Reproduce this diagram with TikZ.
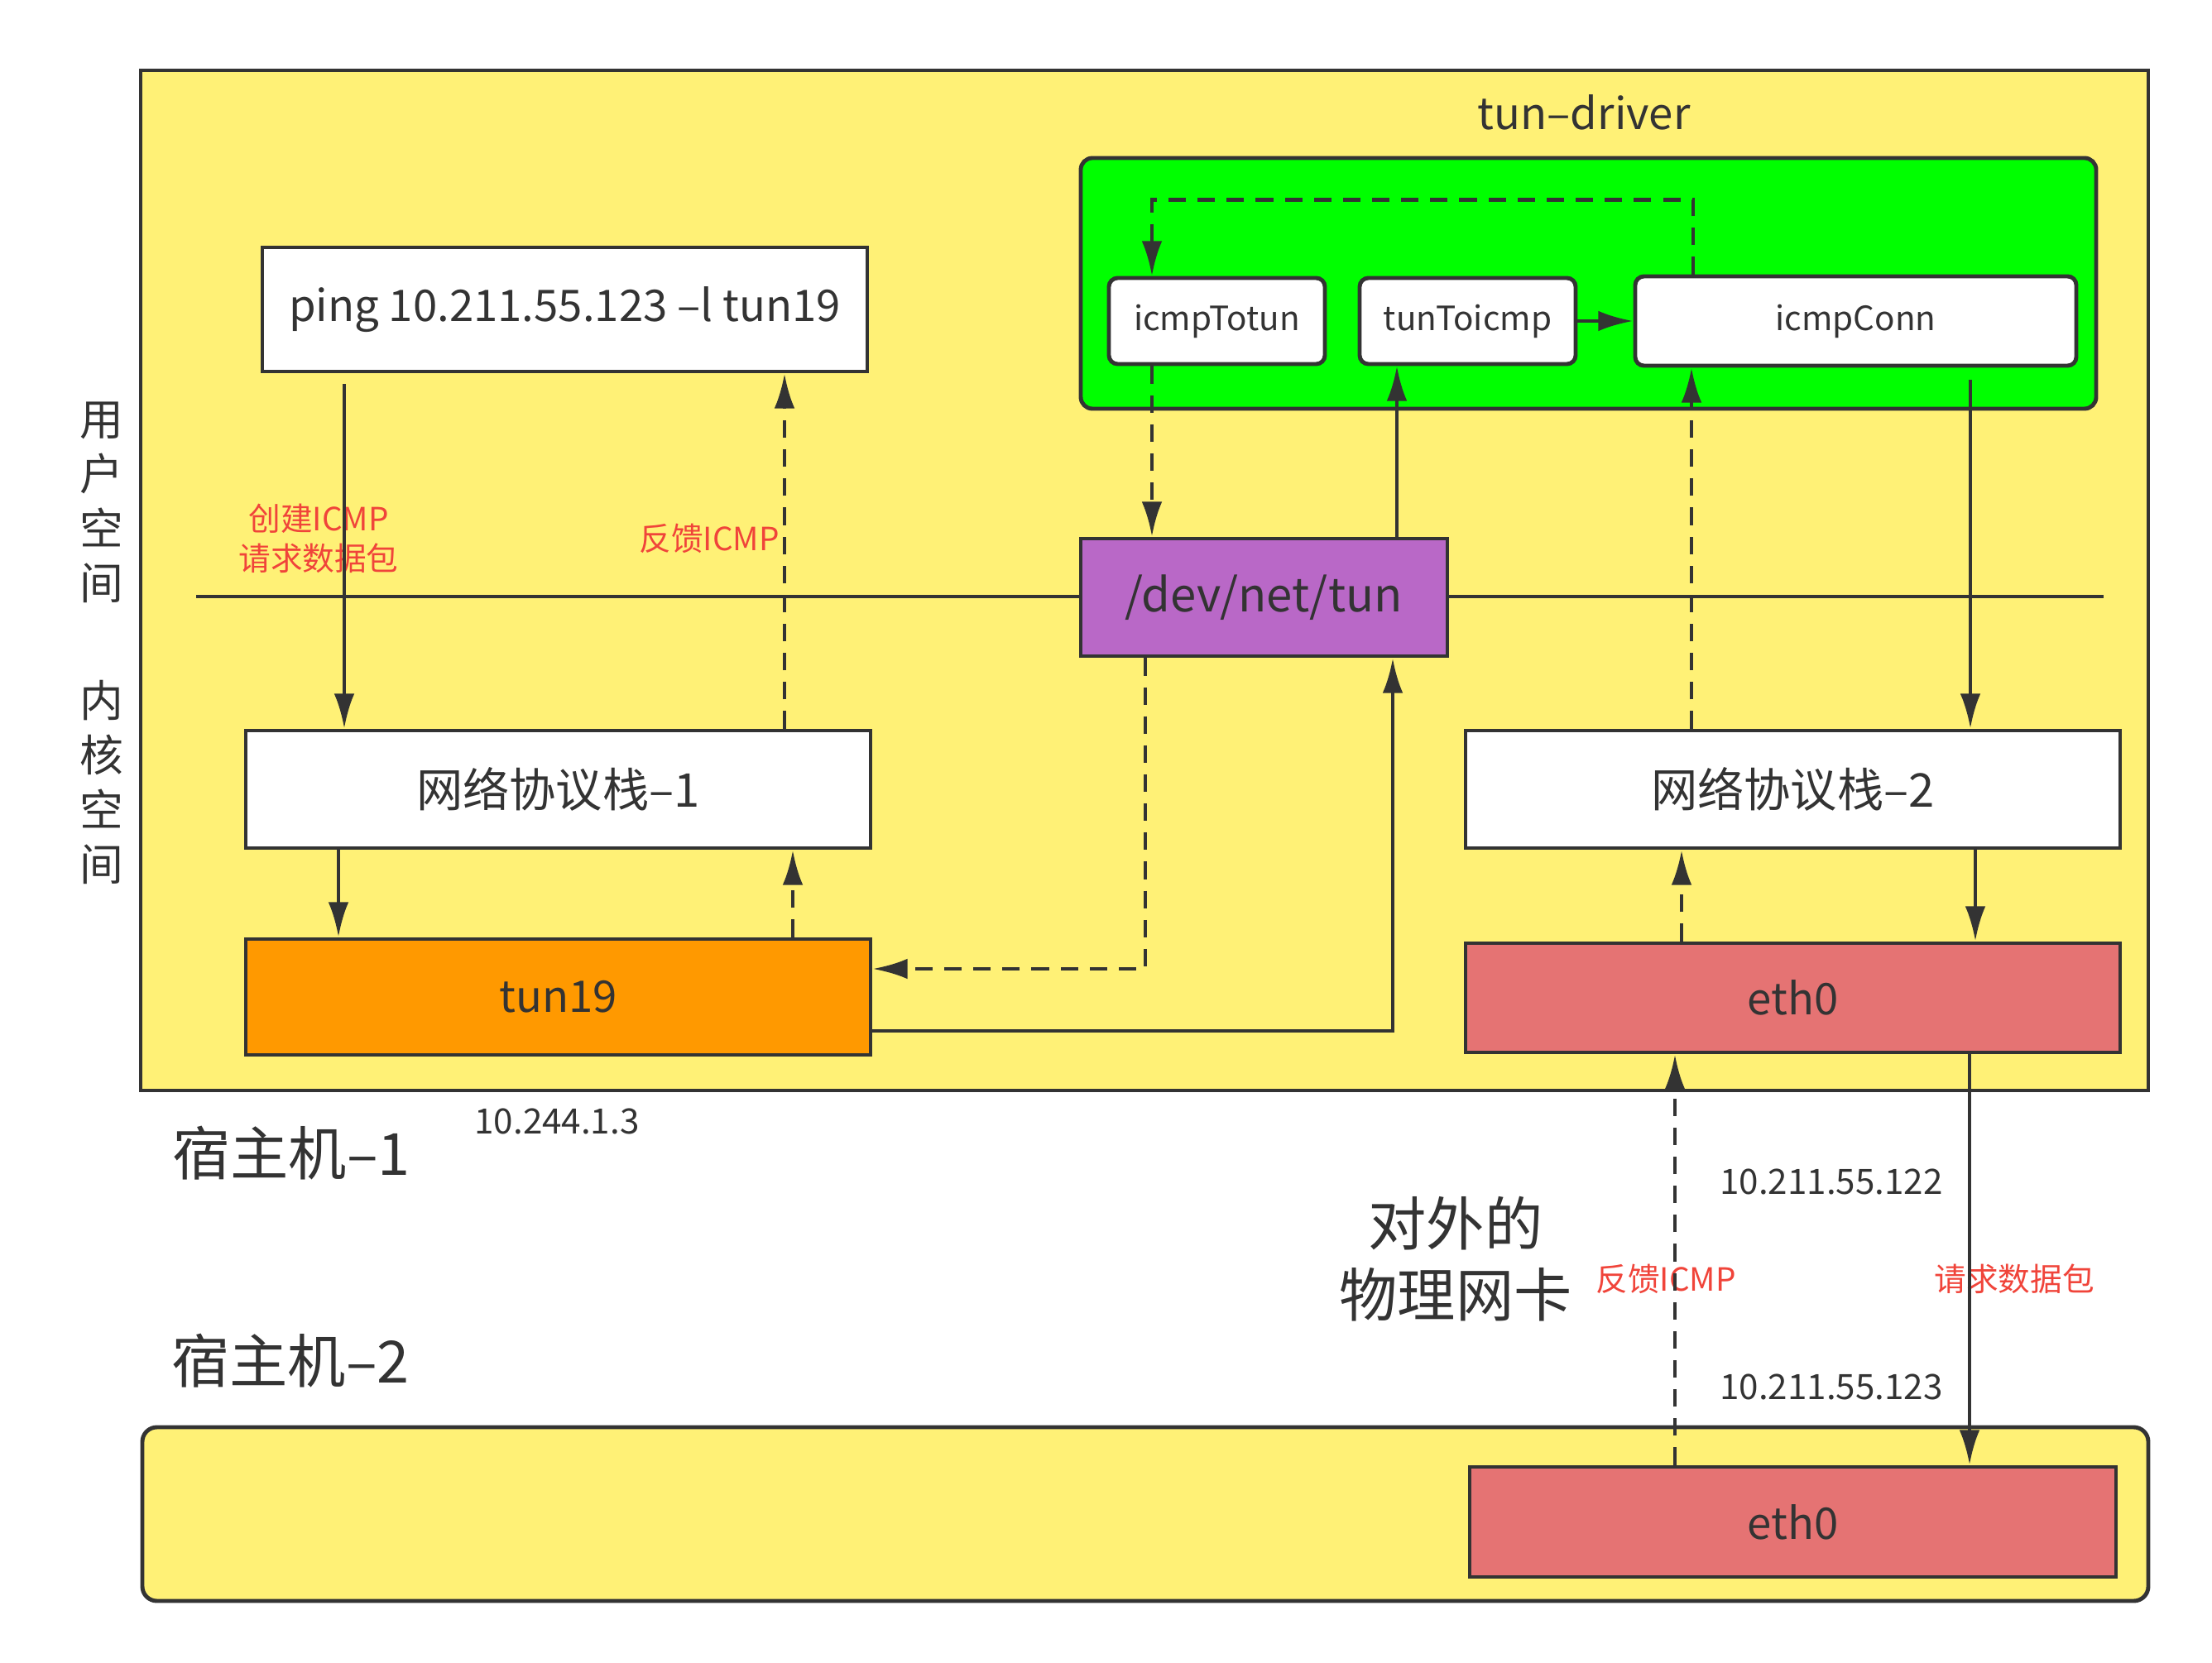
\documentclass[tikz,border=0pt]{standalone}
\usepackage{fontspec}
\setmainfont{Noto Sans CJK SC}
\usetikzlibrary{arrows.meta,positioning}
\definecolor{gelb}{HTML}{FFF176}
\definecolor{gruen}{HTML}{00FF00}
\definecolor{lila}{HTML}{B968C7}
\definecolor{orange}{HTML}{FF9900}
\definecolor{lachs}{HTML}{E57373}
\definecolor{linie}{HTML}{333333}
\definecolor{rot}{HTML}{F0443A}
\tikzset {
hostbox/.style={shape=rectangle,draw=linie,line width=1.4pt,fill=gelb},
drvbox/.style={shape=rectangle,draw=linie,line width=1.4pt,fill=gruen,rounded corners=4pt},
funcbox/.style={shape=rectangle,draw=linie,line width=1.4pt,fill=white,rounded corners=3pt,
  minimum height=1.04cm,font=\fontsize{11.5}{14}\selectfont,text=linie},
stackbox/.style={shape=rectangle,draw=linie,line width=1.4pt,fill=white,
  minimum width=7.55cm,minimum height=1.42cm,font=\fontsize{16}{19}\selectfont,text=linie},
nicbox/.style={shape=rectangle,draw=linie,line width=1.4pt,fill=lachs,
  minimum width=7.91cm,minimum height=1.32cm,font=\fontsize{15}{18}\selectfont,text=linie},
rednote/.style={text=rot,align=center,font=\fontsize{11}{13.5}\selectfont},
iplabel/.style={text=linie,font=\fontsize{12}{14}\selectfont},
biglabel/.style={text=linie,align=center,font=\fontsize{20}{24}\selectfont},
arr/.style={draw=linie,line width=1.3pt,-{Latex[length=12pt,width=7pt]}},
dasharr/.style={arr,dash pattern=on 6pt off 4pt}
}

\begin{document}
\begin{tikzpicture}
\useasboundingbox (0,0) rectangle (26.73,-20.10);
% hosts
\node[hostbox,minimum width=24.26cm,minimum height=12.33cm] (h1) at (13.83,-7.015) {};
\node[hostbox,rounded corners=5pt,minimum width=24.24cm,minimum height=2.10cm] (h2) at (13.84,-18.30) {};
% tun driver
\node[drvbox,minimum width=12.27cm,minimum height=3.03cm] (drv) at (19.195,-3.425) {};
\node[text=linie,font=\fontsize{15}{18}\selectfont] (drvname) at (19.14,-1.36) {tun–driver};
\node[funcbox,minimum width=2.61cm] (itt) at (14.705,-3.88) {icmpTotun};
\node[funcbox,minimum width=2.61cm] (tti) at (17.735,-3.88) {tunToicmp};
\node[funcbox,minimum width=5.33cm,minimum height=1.08cm] (conn) at (22.425,-3.88) {icmpConn};
% user / kernel divider
\draw[draw=linie,line width=1.4pt] (2.37,-7.21) -- (25.42,-7.21);
\node[text=linie,align=center,font=\fontsize{15}{18.8}\selectfont] (us) at (1.23,-6.07) {用\\户\\空\\间};
\node[text=linie,align=center,font=\fontsize{15}{18.8}\selectfont] (ks) at (1.23,-9.455) {内\\核\\空\\间};
\node[stackbox,minimum width=7.31cm,minimum height=1.50cm,font=\fontsize{15}{18}\selectfont] (ping) at (6.825,-3.74) {ping 10.211.55.123 –l tun19};
\node[stackbox,fill=lila,minimum width=4.43cm] (dev) at (15.275,-7.22) {/dev/net/tun};
\node[stackbox] (st1) at (6.745,-9.54) {网络协议栈–1};
\node[stackbox,minimum width=7.91cm] (st2) at (21.665,-9.54) {网络协议栈–2};
\node[nicbox,fill=orange,minimum width=7.55cm,minimum height=1.40cm] (tun) at (6.745,-12.05) {tun19};
\node[nicbox] (eth1) at (21.665,-12.06) {eth0};
\node[nicbox,minimum width=7.81cm,minimum height=1.33cm] (eth2) at (21.665,-18.395) {eth0};
% labels
\node[biglabel] (n1) at (3.52,-13.94) {宿主机–1};
\node[biglabel] (n2) at (3.51,-16.45) {宿主机–2};
\node[biglabel,font=\fontsize{20}{24.5}\selectfont] (nic) at (17.59,-15.22) {对外的\\物理网卡};
\node[iplabel] (ip1) at (6.73,-13.55) {10.244.1.3};
\node[iplabel] (ip2) at (22.13,-14.28) {10.211.55.122};
\node[iplabel] (ip3) at (22.13,-16.76) {10.211.55.123};
\node[rednote] (r1) at (3.85,-6.51) {创建ICMP\\请求数据包};
\node[rednote] (r2) at (8.57,-6.51) {反馈ICMP};
\node[rednote] (r3) at (20.13,-15.46) {反馈ICMP};
\node[rednote] (r4) at (24.34,-15.46) {请求数据包};
% columns
\coordinate (k1) at (4.16,0);
\coordinate (k2) at (9.48,0);
\coordinate (k3) at (4.09,0);
\coordinate (k4) at (9.58,0);
\coordinate (k5) at (16.83,0);
\coordinate (k6) at (13.84,0);
\coordinate (k7) at (16.88,0);
\coordinate (k9) at (20.46,0);
\coordinate (k10) at (13.92,0);
\coordinate (k11) at (23.81,0);
\coordinate (k12) at (20.44,0);
\coordinate (k13) at (23.87,0);
\coordinate (k14) at (20.32,0);
\coordinate (k15) at (23.80,0);
\coordinate (k16) at (20.24,0);
% left stack
\draw[arr,shorten <=0.13cm] (k1 |- ping.south) -- (k1 |- st1.north);
\draw[dasharr] (k2 |- st1.north) -- (k2 |- ping.south);
\draw[arr] (k3 |- st1.south) -- (k3 |- tun.north);
\draw[dasharr] (k4 |- tun.north) -- (k4 |- st1.south);
% tun device
\draw[arr] ([yshift=-0.41cm]tun.east) -| (k5 |- dev.south);
\draw[dasharr] (k6 |- dev.south) |- ([yshift=0.34cm]tun.east);
\draw[arr] (k7 |- dev.north) -- (k7 |- tti.south);
\draw[arr] (tti) -- (conn);
\draw[dasharr] (k9 |- conn.north) -- ++(0,0.90) -| (k10 |- itt.north);
\draw[dasharr] (k10 |- itt.south) -- (k10 |- dev.north);
% right stack
\draw[arr,shorten <=0.15cm] (k11 |- conn.south) -- (k11 |- st2.north);
\draw[dasharr] (k12 |- st2.north) -- (k12 |- conn.south);
\draw[arr] (k13 |- st2.south) -- (k13 |- eth1.north);
\draw[dasharr] (k14 |- eth1.north) -- (k14 |- st2.south);
% wire
\draw[arr] (k15 |- eth1.south) -- (k15 |- eth2.north);
\draw[dasharr] (k16 |- eth2.north) -- (k16 |- eth1.south);
\end{tikzpicture}
\end{document}
